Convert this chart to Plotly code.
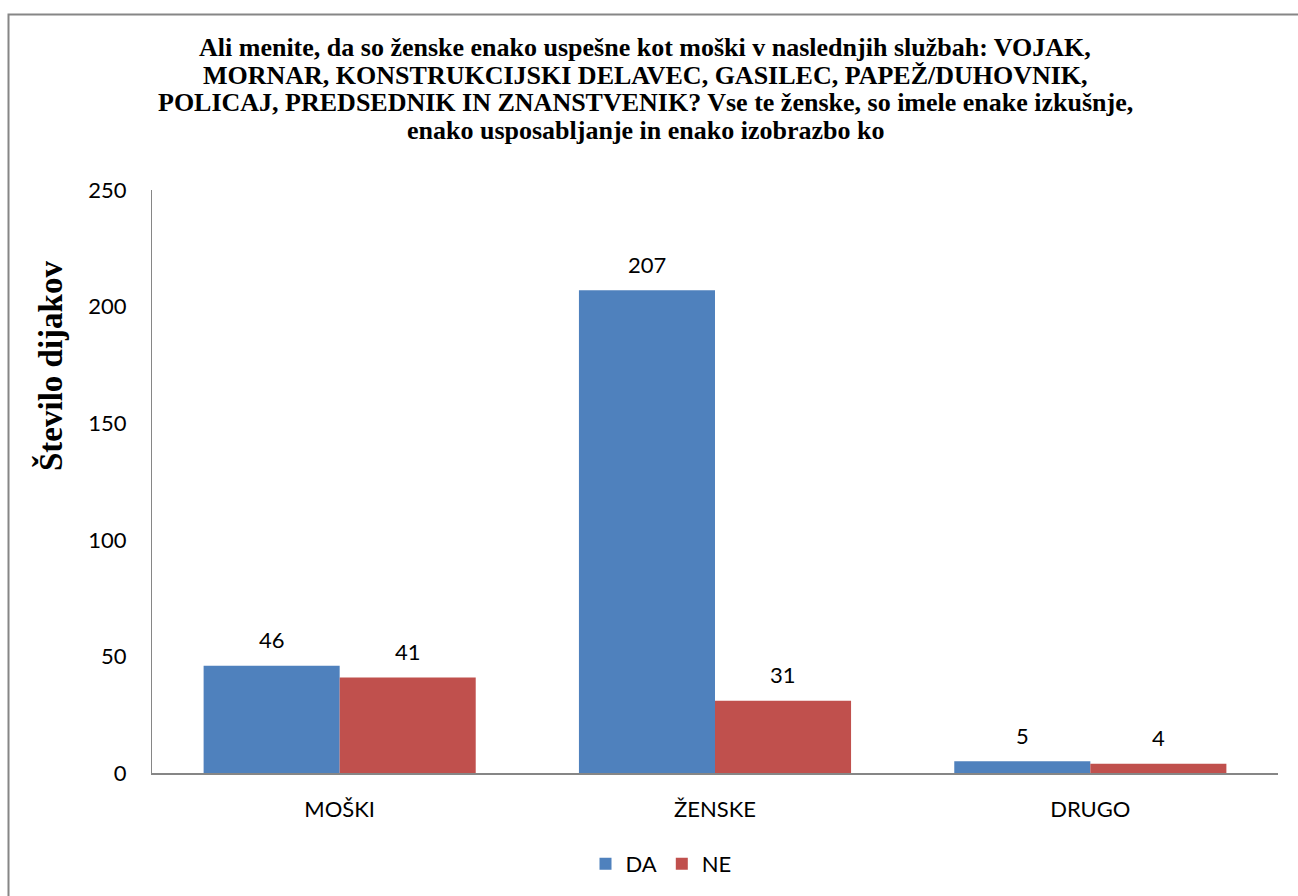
import plotly.graph_objects as go

categories = ["MOŠKI", "ŽENSKE", "DRUGO"]
da_values = [46, 207, 5]
ne_values = [41, 31, 4]
series_names = ["DA", "NE"]
y_ticks = [0, 50, 100, 150, 200, 250]

title_lines = ["Ali menite, da so ženske enako uspešne kot moški v naslednjih službah: VOJAK,",
               "MORNAR, KONSTRUKCIJSKI DELAVEC, GASILEC, PAPEŽ/DUHOVNIK,",
               "POLICAJ, PREDSEDNIK IN ZNANSTVENIK? Vse te ženske, so imele enake izkušnje,",
               "enako usposabljanje in enako izobrazbo ko"]
y_title = "Število dijakov"

W, H = 1298, 896
L, R, T, B = 152, 1278, 190, 773
SANS = "Lato, Open Sans, sans-serif"
SERIF = "Liberation Serif, Times New Roman, serif"

def px(xp):
    return (xp - L) / (R - L)

def py(yp):
    return (B - yp) / (B - T)

fig = go.Figure()
fig.add_trace(go.Bar(x=categories, y=da_values, name=series_names[0],
                     marker=dict(color="#4F81BD", line=dict(width=0))))
fig.add_trace(go.Bar(x=categories, y=ne_values, name=series_names[1],
                     marker=dict(color="#C0504D", line=dict(width=0))))

annotations = []
for vals, shift in ((da_values, -68), (ne_values, 68)):
    for c, v in zip(categories, vals):
        annotations.append(dict(x=c, y=v, xref="x", yref="y", text=str(v), showarrow=False,
                                xshift=shift, yshift=26, yanchor="middle",
                                font=dict(family=SANS, size=22, color="#000")))

title_centers = [48, 75.5, 103, 130.5]
for line, yc in zip(title_lines, title_centers):
    annotations.append(dict(x=px(645), y=py(yc), xref="paper", yref="paper", text="<b>" + line + "</b>",
                            showarrow=False, xanchor="center", yanchor="middle",
                            font=dict(family=SERIF, size=26, color="#000")))

annotations.append(dict(x=px(50), y=py(366), xref="paper", yref="paper", text="<b>" + y_title + "</b>",
                        showarrow=False, textangle=-90, xanchor="center", yanchor="middle",
                        font=dict(family=SERIF, size=33, color="#000")))

fig.update_layout(
    width=W, height=H,
    margin=dict(l=L, r=W - R, t=T, b=H - B, autoexpand=False),
    paper_bgcolor="white", plot_bgcolor="white",
    barmode="group", bargap=0.275, bargroupgap=0,
    showlegend=True,
    legend=dict(orientation="h", x=px(661), xanchor="center", y=py(864), yanchor="middle",
                font=dict(family=SANS, size=22, color="#000"),
                itemwidth=30, traceorder="normal"),
    xaxis=dict(showline=True, linecolor="#868686", linewidth=2, ticks="", showgrid=False,
               tickfont=dict(family=SANS, size=22, color="#000"),
               ticklabelstandoff=16),
    yaxis=dict(range=[0, 250], tickvals=y_ticks, showline=True, linecolor="#868686", linewidth=1,
               ticks="", showgrid=False, zeroline=False,
               tickfont=dict(family=SANS, size=22, color="#000"),
               ticklabelstandoff=20),
    annotations=annotations,
    shapes=[dict(type="rect", xref="paper", yref="paper",
                 x0=px(8.5), y0=py(905), x1=px(1310), y1=py(14.5),
                 line=dict(color="#868686", width=2), fillcolor="rgba(0,0,0,0)", layer="below")],
)
fig.update_traces(cliponaxis=False)

fig.write_html("out.html", config={"displayModeBar": False},
               post_script="document.body.style.margin='0';document.body.style.overflow='hidden';")
